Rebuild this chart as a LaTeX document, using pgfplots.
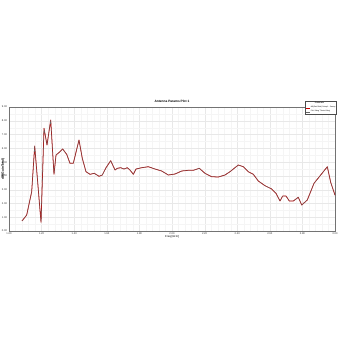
\documentclass[border=0pt]{standalone}
\usepackage{pgfplots}
\pgfplotsset{compat=1.18}
\usepackage{pgfplotstable}
\usepackage{fontspec}
\setmainfont{Liberation Sans}
\pgfplotstableread{
u v
0.399 0.726
0.543 1.161
0.696 2.852
0.788 6.168
0.982 0.631
1.074 7.453
1.166 6.241
1.279 8.055
1.380 4.115
1.442 5.515
1.543 5.711
1.647 5.951
1.770 5.566
1.871 4.913
1.972 4.913
2.147 6.604
2.248 5.276
2.362 4.303
2.485 4.115
2.617 4.187
2.761 3.970
2.862 4.064
2.975 4.594
3.120 5.102
3.252 4.427
3.322 4.550
3.426 4.594
3.528 4.499
3.629 4.594
3.712 4.427
3.813 4.115
3.896 4.499
4.071 4.594
4.273 4.666
4.479 4.499
4.684 4.354
4.887 4.064
5.092 4.136
5.297 4.354
5.500 4.405
5.653 4.405
5.837 4.550
6.012 4.187
6.218 3.940
6.420 3.919
6.626 4.064
6.779 4.303
6.880 4.499
7.034 4.790
7.187 4.666
7.340 4.303
7.494 4.115
7.647 3.628
7.853 3.287
8.058 3.048
8.190 2.736
8.313 2.177
8.396 2.540
8.497 2.540
8.598 2.177
8.721 2.177
8.874 2.446
8.979 1.887
9.150 2.250
9.356 3.462
9.561 4.064
9.764 4.666
9.868 3.534
10.000 2.600
}\datatable
\begin{document}
\begin{tikzpicture}
\path[use as bounding box, fill=white] (0,0) rectangle (340pt,340pt);
\begin{axis}[
  at={(9pt,109pt)}, anchor=south west,
  scale only axis, width=326pt, height=124pt,
  xmin=0, xmax=10, ymin=0, ymax=9,
  xtick={0,...,10},
  xticklabels={1.00,1.20,1.40,1.60,1.80,2.00,2.20,2.40,2.60,2.80,3.00},
  ytick={0,...,9},
  yticklabels={0.00,1.00,2.00,3.00,4.00,5.00,6.00,7.00,8.00,9.00},
  minor x tick num=4, minor y tick num=1,
  grid=both,
  major grid style={black!9, line width=0.2pt},
  minor grid style={black!4, line width=0.15pt},
  axis line style={black!55, line width=0.3pt},
  major tick length=0pt, minor tick length=0pt,
  tick label style={font=\fontsize{2.6}{3}\selectfont, black!80},
  xticklabel style={yshift=1.5pt},
  yticklabel style={xshift=1.5pt},
  /pgf/number format/assume math mode=true,
  title={Antenna Params Plot 1},
  title style={font=\fontsize{3.2}{4}\selectfont\bfseries, yshift=-5pt},
  xlabel={Freq [GHz]},
  xlabel style={font=\fontsize{2.8}{3}\selectfont, yshift=6pt},
  clip mode=individual,
  legend style={at={(1.005,1.05)}, anchor=north east,
    font=\fontsize{1.8}{2.2}\selectfont, draw=black!70, line width=0.2pt,
    inner sep=0.8pt, row sep=0.6pt,
    nodes={inner sep=0.4pt}},
  legend image code/.code={\draw[#1, line width=0.3pt] (0pt,0pt) -- (4pt,0pt);},
  legend cell align=left,
]
\addlegendimage{empty legend}
\addlegendentry{\hspace{4pt}\textbf{Curve Info}}
\addplot[color=red!80!black, line width=0.75pt, line join=round] table[x=u,y=v]{\datatable};
\addlegendentry{dB(GainTotal) Setup1 : Sweep}
\addplot[color=black!60, line width=0.35pt, line join=round] table[x=u,y=v]{\datatable};
\addlegendentry{Phi='0deg' Theta='0deg'}
\node[rotate=90, font=\fontsize{3.3}{3.5}\selectfont\bfseries, inner sep=0pt]
  at (rel axis cs:-0.018,0.5) {dB(GainTotal)};
\end{axis}
\end{tikzpicture}
\end{document}
